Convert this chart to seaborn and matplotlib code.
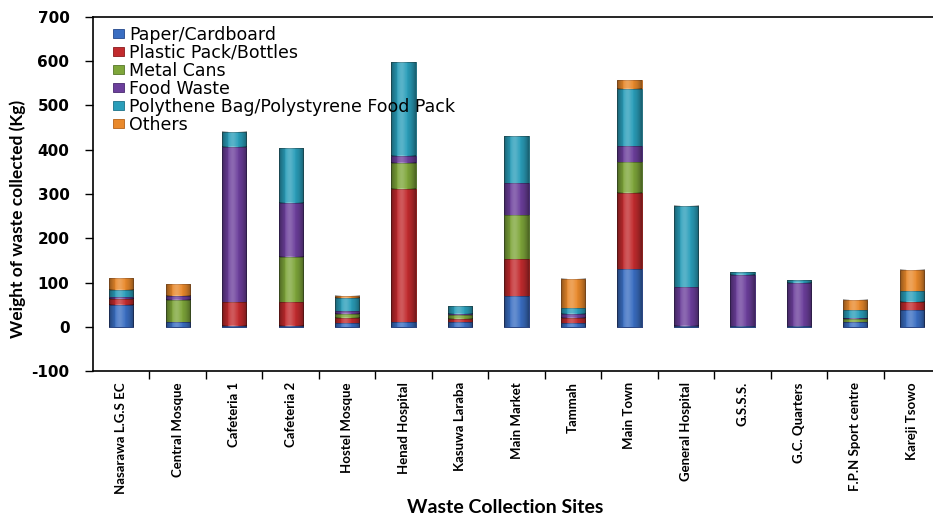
import numpy as np
import pandas as pd
import matplotlib
matplotlib.use("Agg")
import matplotlib.pyplot as plt
import seaborn as sns

# Waste collection sites along the x axis
sites = [
    "Nasarawa L.G.S EC", "Central Mosque", "Cafeteria 1", "Cafeteria 2",
    "Hostel Mosque", "Henad Hospital", "Kasuwa Laraba", "Main Market",
    "Tammah", "Main Town", "General Hospital", "G.S.S.S.", "G.C. Quarters",
    "F.P.N Sport centre", "Kareji Tsowo",
]

# Weight (kg) of each waste type collected per site
paper_cardboard = [50, 10, 3, 3, 8, 10, 10, 70, 8, 131, 3, 1, 1, 10, 38]
plastic_bottles = [14, 0, 52, 52, 12, 302, 8, 83, 12, 172, 0, 0, 0, 0, 19]
metal_cans = [0, 50, 0, 102, 10, 59, 8, 99, 0, 70, 0, 0, 0, 8, 0]
food_waste = [3, 10, 351, 122, 5, 16, 4, 72, 10, 35, 86, 117, 99, 2, 0]
polythene_pack = [16, 0, 34, 124, 30, 212, 16, 106, 12, 130, 184, 5, 6, 18, 23]
others = [27, 27, 0, 0, 5, 0, 0, 0, 67, 19, 0, 0, 0, 23, 49]

series_names = [
    "Paper/Cardboard", "Plastic Pack/Bottles", "Metal Cans", "Food Waste",
    "Polythene Bag/Polystyrene Food Pack", "Others",
]
series_values = [paper_cardboard, plastic_bottles, metal_cans, food_waste,
                 polythene_pack, others]
colors = ["#3A6EC2", "#C22B2E", "#7EA63A", "#6C3F9C", "#2A9EBA", "#E9892B"]
edge_colors = ["#24488a", "#8a1b1e", "#56772a", "#4a2a70", "#1c7188", "#b3621a"]

y_ticks = [-100, 0, 100, 200, 300, 400, 500, 600, 700]
bar_width = 0.43

fig = plt.figure(figsize=(9.33, 5.14), dpi=100)
ax = fig.add_axes([0.0997, 0.278, 0.9078, 0.689])

# Stacked bars: draw cumulative totals from the top layer down
cumulative = np.cumsum(np.array(series_values, dtype=float), axis=0)
for i in range(len(series_names) - 1, -1, -1):
    df = pd.DataFrame({"site": sites, "weight": cumulative[i]})
    sns.barplot(data=df, x="site", y="weight", color=colors[i], width=bar_width,
                edgecolor=edge_colors[i], linewidth=0.6, saturation=1,
                ax=ax, label=series_names[i])

# Cylinder-style shading on every stacked segment
u = np.linspace(-1, 1, 64)
shade = np.zeros((1, u.size, 4))
dark = np.clip(np.abs(u) ** 2.2, 0, 1) * 0.40
light = np.exp(-((u + 0.15) / 0.35) ** 2) * 0.22
shade[0, :, :3] = np.where(light[:, None] > dark[:, None], 1.0, 0.0)
shade[0, :, 3] = np.maximum(dark, light)
lower = np.vstack([np.zeros(len(sites)), cumulative[:-1]])
for i in range(len(series_names)):
    for j in range(len(sites)):
        if series_values[i][j] <= 0:
            continue
        ax.imshow(shade, extent=[j - bar_width / 2, j + bar_width / 2,
                                 lower[i, j], cumulative[i, j]],
                  aspect="auto", interpolation="bilinear", zorder=3)

ax.set_ylim(-100, 700)
ax.set_xlim(-0.5, len(sites) - 0.5)
ax.set_yticks(y_ticks)
ax.set_yticklabels([str(t) for t in y_ticks], fontfamily="DejaVu Sans",
                   fontweight="bold", fontsize=11)
ax.tick_params(axis="y", direction="out", length=6, width=1, pad=11)

ax.set_xticks(range(len(sites)))
ax.set_xticklabels(sites, rotation=90, fontfamily="Lato", fontweight="bold",
                   fontsize=9.5, va="top", ha="center")
ax.tick_params(axis="x", which="major", length=0, pad=8)
ax.set_xticks(np.arange(len(sites)) + 0.5, minor=True)
ax.tick_params(axis="x", which="minor", direction="out", length=6, width=1)

for side in ["left", "bottom", "top"]:
    ax.spines[side].set_linewidth(1.2)
    ax.spines[side].set_color("black")
ax.spines["right"].set_visible(False)

ax.set_xlabel("Waste Collection Sites", fontfamily="Lato", fontweight="bold",
              fontsize=14)
ax.xaxis.set_label_coords(0.541, 0.03, transform=fig.transFigure)
ax.set_ylabel("Weight of waste collected (Kg)", fontfamily="Lato",
              fontweight="bold", fontsize=12.5)
ax.yaxis.set_label_coords(-0.079, 0.43)

handles, labels = ax.get_legend_handles_labels()
order = [labels.index(n) for n in series_names]
leg = ax.legend([handles[k] for k in order], [labels[k] for k in order],
                loc="upper left", bbox_to_anchor=(0.121, 0.95),
                bbox_transform=fig.transFigure, frameon=False,
                prop={"family": "DejaVu Sans", "size": 12.5},
                handlelength=0.65, handleheight=0.5, handletextpad=0.3,
                labelspacing=0.0, borderpad=0, borderaxespad=0)

fig.savefig("out.png", dpi=100)
